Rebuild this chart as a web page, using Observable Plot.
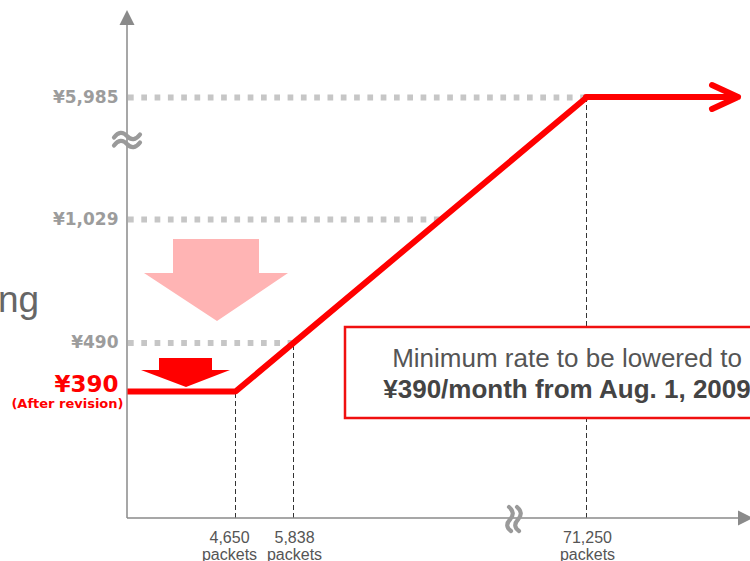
<!DOCTYPE html>
<html>
<head>
<meta charset="utf-8">
<style>
  html, body { margin: 0; padding: 0; background: #fff; }
  svg { display: block; }
</style>
<script src="https://cdn.jsdelivr.net/npm/d3@7"></script>
<script src="https://cdn.jsdelivr.net/npm/@observablehq/plot@0.6"></script>
</head>
<body>
<div id="chart"></div>
<script>
// Packet-rate curve: flat minimum charge, then per-packet billing up to the cap.
const curvePackets = [0, 4650, 71250];
const curveYen = [390, 390, 5985];

// Dashed guides dropped from the curve to the packet axis.
const guidePackets = [4650, 5838, 71250];
const guideYen = [390, 490, 5985];
const guideLabels = ["4,650\npackets", "5,838\npackets", "71,250\npackets"];

// Dotted guides drawn from the charge axis to the curve.
const refYen = [5985, 1029, 490];
const refPackets = [71250, 12250, 5838];
const refLabels = ["¥5,985", "¥1,029", "¥490"];

// Revised minimum charge.
const minYen = [390];
const minLabel = ["¥390"];
const minNote = ["(After revision)"];

// Announcement text.
const noteLines = ["Minimum rate to be lowered to", "¥390/month from Aug. 1, 2009"];
const sideText = "ng";

const RED = "#ff0000";
const AXIS = "#8a8a8a";
const BREAK = "#9a9a9a";
const SANS = "Liberation Sans, Arial, sans-serif";

const curve = curvePackets.map((p, i) => ({packets: p, yen: curveYen[i]}));
const guides = guidePackets.map((p, i) => ({packets: p, yen: guideYen[i], label: guideLabels[i]}));
const refs = refYen.map((v, i) => ({yen: v, packets: refPackets[i], label: refLabels[i]}));
const mins = minYen.map((v, i) => ({yen: v, label: minLabel[i], note: minNote[i]}));

// Both axes are broken, so the scales are piecewise over the marked values.
const xDomain = Array.from(new Set([0, ...guidePackets, ...refPackets])).sort((a, b) => a - b);
const yDomain = Array.from(new Set([0, ...minYen, ...refYen])).sort((a, b) => a - b);

// Axis lines, filled arrow tips and the break marks.
function axes(index, {x, y}, values, {width}) {
  const g = d3.create("svg:g");
  const x0 = x(0), y0 = y(0);
  g.append("line").attr("x1", x0).attr("y1", y0).attr("x2", x0).attr("y2", 22)
    .attr("stroke", AXIS).attr("stroke-width", 1.5);
  g.append("path").attr("d", `M${x0},10L${x0 - 7.5},25L${x0 + 7.5},25Z`).attr("fill", AXIS);
  g.append("line").attr("x1", x0).attr("y1", y0).attr("x2", width - 10).attr("y2", y0)
    .attr("stroke", AXIS).attr("stroke-width", 1.5);
  g.append("path").attr("d", `M${width + 3},${y0}L${width - 12},${y0 - 7.5}L${width - 12},${y0 + 7.5}Z`).attr("fill", AXIS);

  // break on the charge axis, between ¥1,029 and ¥5,985: two tildes
  const by = y(5985) + 43;
  for (const off of [-4, 4]) {
    const cy = by + off;
    g.append("path")
      .attr("d", `M${x0 - 13},${cy + 1.5}Q${x0 - 6.5},${cy - 7} ${x0},${cy}T${x0 + 13},${cy - 1.5}`)
      .attr("fill", "none").attr("stroke", BREAK).attr("stroke-width", 4.2)
      .attr("stroke-linecap", "round");
  }
  // break on the packet axis, between 12,250 and 71,250: two vertical waves
  const bx = x(12250) + 74;
  for (const off of [-4, 4]) {
    const cx = bx + off;
    g.append("path")
      .attr("d", `M${cx - 1},${y0 - 11}Q${cx + 6},${y0 - 5} ${cx},${y0 + 1.5}T${cx + 1},${y0 + 13}`)
      .attr("fill", "none").attr("stroke", BREAK).attr("stroke-width", 4.2)
      .attr("stroke-linecap", "round");
  }
  return g.node();
}

// Downward arrows and the announcement box.
function annotations(index, {x, y}, values, {width}) {
  const g = d3.create("svg:g");
  g.append("path")
    .attr("d", "M173,239H259V273H288L217,321L144,273H173Z")
    .attr("fill", "#ffb4b4");
  const yMin = y(390);
  g.append("path")
    .attr("d", `M159,${yMin - 33}H212V${yMin - 21}H230L186,${yMin - 4}L141,${yMin - 21}H159Z`)
    .attr("fill", RED);
  g.append("rect").attr("x", 345).attr("y", 327).attr("width", 470).attr("height", 91)
    .attr("fill", "#fff").attr("stroke", "#f01010").attr("stroke-width", 2.5);
  g.append("text").attr("x", 567).attr("y", 367).attr("text-anchor", "middle")
    .attr("font-family", SANS).attr("font-size", 26)
    .attr("fill", "#555").text(noteLines[0]);
  g.append("text").attr("x", 567).attr("y", 398).attr("text-anchor", "middle")
    .attr("font-family", SANS).attr("font-size", 26)
    .attr("font-weight", "bold").attr("fill", "#444").text(noteLines[1]);
  g.append("text").attr("x", -2).attr("y", 312).attr("text-anchor", "start")
    .attr("font-family", SANS).attr("font-size", 37)
    .attr("fill", "#666").text(sideText);
  return g.node();
}

// Flat tail beyond the cap, ending in an open arrow head.
function tail(index, {x, y}, values, {width}) {
  const g = d3.create("svg:g");
  const xs = x(curvePackets[curvePackets.length - 1]);
  const ys = y(curveYen[curveYen.length - 1]);
  const xe = width - 12;
  g.append("path")
    .attr("d", `M${xs},${ys}H${xe}M${xe - 26},${ys - 12}L${xe},${ys}L${xe - 26},${ys + 12}`)
    .attr("fill", "none").attr("stroke", RED).attr("stroke-width", 6)
    .attr("stroke-linecap", "round").attr("stroke-linejoin", "round");
  return g.node();
}

const chart = Plot.plot({
  width: 750,
  height: 561,
  margin: 0,
  style: {background: "#fff", fontFamily: SANS},
  x: {type: "linear", domain: xDomain, range: [127, 235, 293, 440, 586], axis: null},
  y: {type: "linear", domain: yDomain, range: [518, 391, 342.5, 219, 97], axis: null},
  marks: [
    Plot.ruleY(refs, {
      y: "yen", x1: 0, x2: "packets",
      stroke: "#c6c6c6", strokeWidth: 6, strokeDasharray: "5.7,7.6", dx: 1
    }),
    Plot.ruleX(guides, {
      x: "packets", y1: 0, y2: "yen",
      stroke: "#333", strokeWidth: 1, strokeDasharray: "5,3"
    }),
    axes,
    annotations,
    Plot.line(curve, {
      x: "packets", y: "yen",
      stroke: RED, strokeWidth: 6, strokeLinejoin: "miter", strokeLinecap: "butt"
    }),
    tail,
    Plot.text(refs, {
      x: 0, y: "yen", text: "label", textAnchor: "end", dx: -9,
      fill: "#9c9c9c", fontWeight: "bold", fontSize: 17, fontFamily: "DejaVu Sans"
    }),
    Plot.text(mins, {
      x: 0, y: "yen", text: "label", textAnchor: "end", dx: -9, dy: -7,
      fill: RED, fontWeight: "bold", fontSize: 23, fontFamily: "DejaVu Sans"
    }),
    Plot.text(mins, {
      x: 0, y: "yen", text: "note", textAnchor: "end", dx: -4, dy: 12,
      fill: RED, fontWeight: "bold", fontSize: 13, fontFamily: "DejaVu Sans"
    }),
    Plot.text(guides, {
      filter: (d, i) => i === 0,
      x: "packets", y: 0, text: "label", lineAnchor: "top", lineHeight: 1.05,
      dx: -6, dy: 13, fill: "#555", fontSize: 16
    }),
    Plot.text(guides, {
      filter: (d, i) => i > 0,
      x: "packets", y: 0, text: "label", lineAnchor: "top", lineHeight: 1.05,
      dx: 1, dy: 13, fill: "#555", fontSize: 16
    })
  ]
});

document.getElementById("chart").append(chart);
</script>
</body>
</html>
